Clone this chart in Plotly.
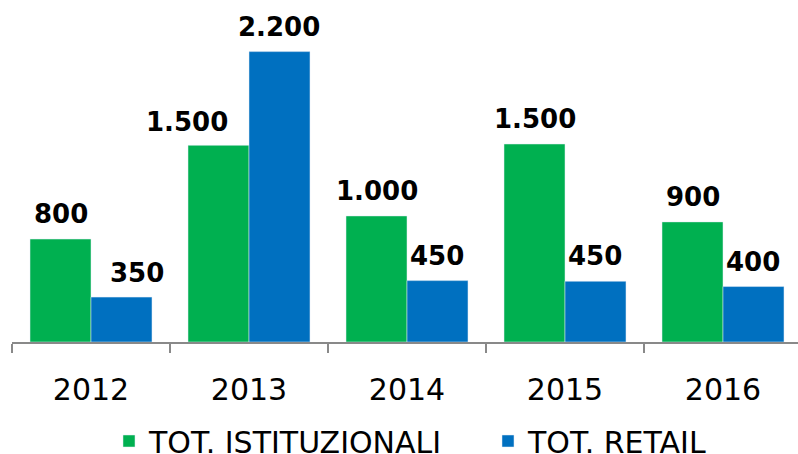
import plotly.graph_objects as go

years = ["2012", "2013", "2014", "2015", "2016"]
istituzionali = [780, 1490, 955, 1500, 910]
retail = [340, 2200, 465, 460, 420]
label_ist = ["800", "1.500", "1.000", "1.500", "900"]
label_ret = ["350", "2.200", "450", "450", "400"]

# label position tweaks (px), as in the reference
shift_ist = [(0, 0), (-32, -2), (0, 0), (0, 0), (0, 0)]
shift_ret = [(16, -1), (0, 0), (0, 0), (0, 0), (0, 0)]

GREEN = "#00B050"
BLUE = "#0070C0"
FONT = "Verdana, DejaVu Sans, sans-serif"
BARGAP = 0.228

fig = go.Figure()
fig.add_trace(go.Bar(name="TOT. ISTITUZIONALI", x=years, y=istituzionali,
                     marker=dict(color=GREEN)))
fig.add_trace(go.Bar(name="TOT. RETAIL", x=years, y=retail,
                     marker=dict(color=BLUE)))

half = (1 - BARGAP) / 4
annotations = []
for i, yr in enumerate(years):
    for vals, labs, sh, off in ((istituzionali, label_ist, shift_ist, -half),
                                (retail, label_ret, shift_ret, half)):
        annotations.append(dict(
            x=i + off, y=vals[i], xref="x", yref="y", text=labs[i],
            showarrow=False, yanchor="bottom", xanchor="center",
            xshift=sh[i][0], yshift=8 + sh[i][1],
            font=dict(family=FONT, size=26, color="black", weight="bold")))

fig.update_layout(
    width=798, height=454,
    margin=dict(l=12, r=0, t=12, b=112, autoexpand=False),
    paper_bgcolor="white", plot_bgcolor="white",
    barmode="group", bargap=BARGAP, bargroupgap=0,
    showlegend=True,
    legend=dict(orientation="h", x=0.1234, xanchor="left", y=-0.300,
                yanchor="middle", entrywidth=334,
                font=dict(family=FONT, size=30, color="black"),
                bgcolor="rgba(0,0,0,0)"),
    annotations=annotations,
    font=dict(family=FONT, color="black"),
)
fig.update_xaxes(type="category", range=[-0.5, -0.5 + 786 / 158],
                 showline=True, linecolor="#898989", linewidth=2,
                 ticks="outside", tickson="boundaries", ticklen=9,
                 tickcolor="#898989", tickwidth=2,
                 ticklabelstandoff=20,
                 tickfont=dict(family=FONT, size=30, color="black"),
                 showgrid=False, zeroline=False, fixedrange=True)
fig.update_yaxes(range=[0, 2500], visible=False, showgrid=False,
                 zeroline=False, fixedrange=True)

fig.write_html("out.html", config={"displayModeBar": False},
               post_script="document.body.style.margin='0';")
